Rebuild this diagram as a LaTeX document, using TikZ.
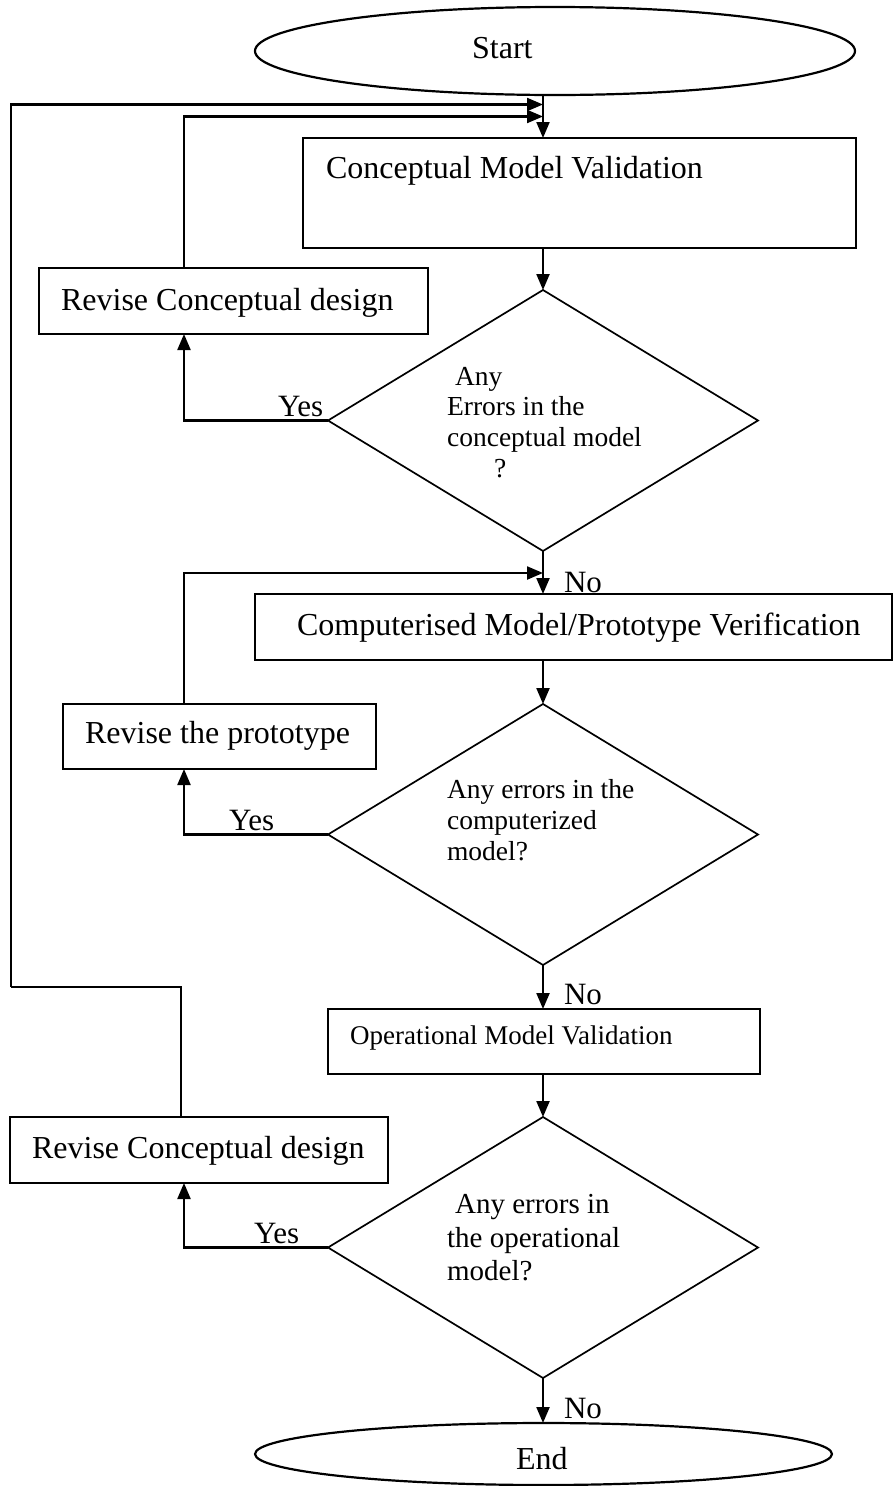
\documentclass[tikz,border=0pt]{standalone}
\usepackage{fontspec}
\setmainfont{Liberation Serif}
\usetikzlibrary{shapes.geometric,arrows.meta}
\begin{document}
\begin{tikzpicture}[x=1pt,y=-1pt,
  every path/.style={line width=2.2pt},
  arr/.style={-{Triangle[length=16pt,width=13pt]}},
  thinline/.style={line width=1.7pt},
  boxnode/.style={draw,rectangle,inner sep=0pt,outer sep=0pt},
  termnode/.style={draw,ellipse,inner sep=0pt,outer sep=0pt},
  decnode/.style={draw,diamond,inner sep=0pt,outer sep=0pt,line width=1.7pt,
    minimum width=430pt,minimum height=261pt},
  txt/.style={anchor=base west,inner sep=0pt,font=\fontsize{32}{38}\selectfont},
  dtxt/.style={anchor=base west,inner sep=0pt,font=\fontsize{27.5}{32}\selectfont},
  lbl/.style={anchor=base west,inner sep=0pt,font=\fontsize{31}{36}\selectfont}]
\useasboundingbox (0,0) rectangle (894,1486);

% terminals
\node[termnode,minimum width=600pt,minimum height=88pt] (start) at (555,51) {};
\node[termnode,minimum width=577pt,minimum height=62pt] (end) at (543.5,1454) {};

% process boxes
\node[boxnode,minimum width=553pt,minimum height=110pt] (cmv) at (579.5,193) {};
\node[boxnode,minimum width=389pt,minimum height=66pt] (rcd1) at (233.5,301) {};
\node[boxnode,minimum width=637pt,minimum height=66pt] (cmpv) at (573.5,627) {};
\node[boxnode,minimum width=313pt,minimum height=65pt] (rp) at (219.5,736.5) {};
\node[boxnode,minimum width=432pt,minimum height=65pt] (op) at (544,1041.5) {};
\node[boxnode,minimum width=378pt,minimum height=66pt] (rcd2) at (199,1150) {};

% decisions
\node[decnode] (d1) at (543,420.5) {};
\node[decnode] (d2) at (543,834.5) {};
\node[decnode] (d3) at (543,1247.5) {};

% texts
\node[txt] (tstart) at (471,58) {Start};
\node[txt] (tcmv) at (325,178) {Conceptual Model Validation};
\node[txt] (trcd1) at (60,310) {Revise Conceptual design};
\node[txt] (tcmpv) at (296,635) {Computerised Model/Prototype Verification};
\node[txt] (trp) at (84,743) {Revise the prototype};
\node[anchor=base west,inner sep=0pt,font=\fontsize{27}{32}\selectfont] (top) at (349,1044) {Operational Model Validation};
\node[txt] (trcd2) at (31,1158) {Revise Conceptual design};
\node[txt] (tend) at (515,1469) {End};

\node[dtxt] (q1a) at (454,385) {Any};
\node[dtxt] (q1b) at (446,415) {Errors in the};
\node[dtxt] (q1c) at (446,446) {conceptual model};
\node[dtxt] (q1d) at (493,477) {?};

\node[dtxt] (q2a) at (446,798) {Any errors in the};
\node[dtxt] (q2b) at (446,829) {computerized};
\node[dtxt] (q2c) at (446,860) {model?};

\node[dtxt,font=\fontsize{29}{34}\selectfont] (q3a) at (454,1213) {Any errors in};
\node[dtxt,font=\fontsize{29}{34}\selectfont] (q3b) at (446,1247) {the operational};
\node[dtxt,font=\fontsize{29}{34}\selectfont] (q3c) at (446,1280) {model?};

\node[lbl] (y1) at (277,416) {Yes};
\node[lbl] (y2) at (228,830) {Yes};
\node[lbl] (y3) at (253,1243) {Yes};
\node[lbl] (n1) at (563,592) {No};
\node[lbl] (n2) at (563,1004) {No};
\node[lbl] (n3) at (563,1418) {No};

% loop helpers
\coordinate (lx) at (184,0);
\coordinate (lx2) at (181,0);
\coordinate (in0) at (543,104.5);
\coordinate (in1) at (543,116.5);
\coordinate (in2) at (543,573);
\coordinate (bend) at (11,987);

% main flow
\draw[arr] (start.south -| d1.north) -- (cmv.north -| d1.north);
\draw[arr] (cmv.south -| d1.north) -- (d1.north);
\draw[arr] (d1.south) -- (cmpv.north -| d1.south);
\draw[arr] (cmpv.south -| d2.north) -- (d2.north);
\draw[arr] (d2.south) -- (op.north -| d2.south);
\draw[arr] (op.south -| d3.north) -- (d3.north);
\draw[arr] (d3.south) -- (end.north -| d3.south);

% yes branches
\draw[arr] (d1.west) -| (rcd1.south -| lx);
\draw[arr] (d2.west) -| (rp.south -| lx);
\draw[arr] (d3.west) -| (rcd2.south -| lx);

% loops back
\draw[arr] (rcd1.north -| lx) |- (in1);
\draw[arr] (rp.north -| lx) |- (in2);
\draw[thinline] (rcd2.north -| lx2) |- (bend);
\draw[arr] (bend) |- (in0);
\end{tikzpicture}
\end{document}
